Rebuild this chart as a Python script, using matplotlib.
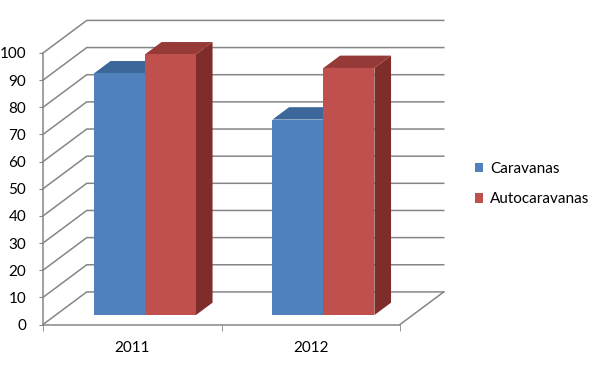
import matplotlib.pyplot as plt
import matplotlib.patches as mpatches
import numpy as np

plt.rcParams['font.family'] = ['Lato', 'DejaVu Sans']
plt.rcParams['font.size'] = 11

# data
years = ['2011', '2012']
series = ['Caravanas', 'Autocaravanas']
caravanas = [89, 72]
autocaravanas = [96, 91]
yticks = list(range(0, 101, 10))

front_cols = ['#4F81BD', '#C0504D']
top_cols = ['#3B679A', '#963A37']
side_cols = ['#35598A', '#7E2D2B']
grid_col = '#868686'

# fake 3d: depth offset in data units
DX, DY = 0.245, 12.0
f0, f1 = 0.29, 0.67
w = 0.2857

fig = plt.figure(figsize=(6, 3.65), dpi=100)
ax = fig.add_axes([43/600, 40.5/365, 357/600, 271.5/365])
ax.set_xlim(-0.5, 1.5)
ax.set_ylim(0, 100)

# walls
for v in yticks:
    ax.plot([-0.5, -0.5 + DX, 1.5 + DX], [v, v + DY, v + DY],
            color=grid_col, lw=1.1, clip_on=False, zorder=1)
ax.plot([1.5, 1.5 + DX], [0, DY], color=grid_col, lw=1.1, clip_on=False, zorder=1)

x = np.arange(len(years))
d = f1 - f0
for i, vals in enumerate([caravanas, autocaravanas]):
    left = x - w + i * w + f0 * DX
    b = f0 * DY
    for l, v in zip(left, vals):
        side = [(l + w, b), (l + w + d*DX, b + d*DY), (l + w + d*DX, b + v + d*DY), (l + w, b + v)]
        top = [(l, b + v), (l + w, b + v), (l + w + d*DX, b + v + d*DY), (l + d*DX, b + v + d*DY)]
        ax.add_patch(mpatches.Polygon(side, closed=True, facecolor=side_cols[i],
                                      edgecolor='none', clip_on=False, zorder=2 + 3*i))
        ax.add_patch(mpatches.Polygon(top, closed=True, facecolor=top_cols[i],
                                      edgecolor='none', clip_on=False, zorder=3 + 3*i))
    ax.bar(left, vals, width=w, bottom=b, align='edge', color=front_cols[i],
           clip_on=False, zorder=4 + 3*i)

for s in ['top', 'right']:
    ax.spines[s].set_visible(False)
for s in ['left', 'bottom']:
    ax.spines[s].set_color(grid_col)
    ax.spines[s].set_linewidth(1.1)
    ax.spines[s].set_zorder(1)
ax.set_facecolor('none')

ax.set_yticks(yticks)
ax.tick_params(axis='y', length=3, pad=9, color=grid_col, labelcolor='black')
ax.set_xticks(x)
ax.set_xticklabels(years)
ax.set_xticks([-0.5, 0.5, 1.5], minor=True)
ax.tick_params(axis='x', which='major', length=0, pad=12)
ax.tick_params(axis='x', which='minor', length=4, color=grid_col)

handles = [mpatches.Patch(facecolor=c, edgecolor='none') for c in front_cols]
fig.legend(handles, series, loc='center left', bbox_to_anchor=(475/600, 1 - 184/365),
           frameon=False, handlelength=0.55, handleheight=0.55, handletextpad=0.45,
           labelspacing=1.1, borderpad=0, borderaxespad=0, fontsize=11)

fig.savefig('out.png', dpi=100)
